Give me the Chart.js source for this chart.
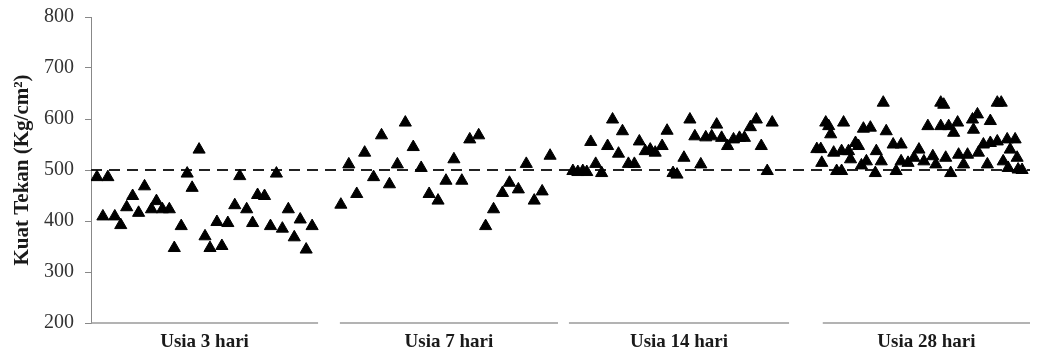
<!DOCTYPE html>
<html>
<head>
<meta charset="utf-8">
<script src="https://cdn.jsdelivr.net/npm/chart.js@4/dist/chart.umd.min.js"></script>
<style>
	html, body { margin: 0; padding: 0; background: #fff; }
	#wrap { width: 1038px; height: 354px; position: relative; }
</style>
</head>
<body>
<div id="wrap"><canvas id="kuatTekan"></canvas></div>
<script>
// kelompok umur benda uji
const groupLabels = ['Usia 3 hari', 'Usia 7 hari', 'Usia 14 hari', 'Usia 28 hari'];
// rentang garis dasar tiap kelompok (posisi sampel)
const groupRanges = [[0, 229], [251, 471], [482, 704], [738, 947]];

// kuat tekan tiap sampel (Kg/cm2), x = posisi sampel
const usia3X = [6, 12, 17, 24, 30, 36, 42, 48, 54, 61, 66, 72, 79, 84, 91, 97, 102, 109, 115, 120, 127, 132, 138, 145, 150, 157, 163, 168, 175, 181, 187, 193, 199, 205, 211, 217, 223];
const usia3Y = [486, 409, 486, 409, 392, 427, 449, 416, 468, 423, 439, 423, 423, 347, 390, 493, 465, 540, 370, 347, 398, 351, 396, 431, 488, 423, 396, 451, 449, 390, 493, 385, 423, 368, 403, 344, 390];

const usia7X = [252, 260, 268, 276, 285, 293, 301, 309, 317, 325, 333, 341, 350, 358, 366, 374, 382, 391, 398, 406, 415, 422, 431, 439, 447, 455, 463];
const usia7Y = [432, 511, 453, 534, 486, 568, 472, 511, 593, 545, 504, 453, 440, 479, 521, 479, 560, 568, 390, 423, 455, 475, 462, 512, 440, 458, 528];

const usia14X = [486, 491, 496, 500, 504, 509, 515, 521, 526, 532, 536, 542, 548, 553, 559, 564, 569, 576, 581, 587, 591, 598, 604, 609, 615, 620, 626, 631, 636, 642, 648, 654, 659, 665, 671, 676, 682, 687];
const usia14Y = [498, 496, 498, 496, 555, 512, 494, 547, 599, 532, 576, 512, 512, 556, 537, 540, 534, 547, 577, 494, 491, 524, 599, 566, 511, 564, 566, 589, 563, 547, 560, 563, 563, 584, 599, 547, 498, 593];

const usia28X = [732, 736, 737, 741, 744, 746, 749, 752, 757, 757, 759, 764, 766, 771, 774, 777, 779, 782, 786, 791, 792, 797, 799, 802, 809, 812, 817, 817, 824, 830, 835, 840, 844, 849, 852, 857, 857, 860, 862, 865, 867, 870, 874, 875, 880, 884, 889, 890, 894, 895, 900, 904, 907, 907, 914, 914, 918, 920, 924, 925, 927, 932, 934, 935, 939];
const usia28Y = [541, 541, 514, 593, 586, 570, 534, 498, 537, 498, 593, 537, 521, 553, 547, 509, 581, 517, 583, 494, 537, 517, 632, 576, 550, 498, 550, 517, 514, 524, 540, 517, 586, 527, 511, 632, 586, 628, 524, 586, 494, 573, 593, 530, 511, 530, 599, 579, 609, 534, 550, 511, 596, 553, 632, 556, 632, 517, 560, 504, 540, 560, 524, 501, 500];

// batas kuat tekan rencana
const targetStrength = 500;
const yMin = 200, yMax = 800, yStep = 100;

const serif = "'Liberation Serif', 'Times New Roman', serif";

function toPoints(xs, ys){
	return xs.map((x, i) => ({ x, y: ys[i] }));
}

const sampleSets = [[usia3X, usia3Y], [usia7X, usia7Y], [usia14X, usia14Y], [usia28X, usia28Y]];

const datasets = [];

// garis putus-putus 500
datasets.push({
	type: 'line',
	data: [{ x: groupRanges[0][0], y: targetStrength }, { x: groupRanges[3][1], y: targetStrength }],
	borderColor: '#222',
	borderWidth: 2,
	borderDash: [11, 7],
	pointRadius: 0,
	order: 2
});

// garis dasar tiap kelompok
groupRanges.forEach(r => {
	datasets.push({
		type: 'line',
		data: [{ x: r[0], y: yMin }, { x: r[1], y: yMin }],
		borderColor: '#9a9a9a',
		borderWidth: 1.5,
		pointRadius: 0,
		clip: false,
		order: 3
	});
});

sampleSets.forEach(s => {
	datasets.push({
		type: 'scatter',
		data: toPoints(s[0], s[1]),
		pointStyle: 'triangle',
		pointRadius: 7,
		pointHoverRadius: 7,
		backgroundColor: '#000',
		borderColor: '#000',
		borderWidth: 1,
		order: 1
	});
});

const groupCenters = groupRanges.map(r => (r[0] + r[1]) / 2);

new Chart(document.getElementById('kuatTekan'), {
	type: 'scatter',
	data: { datasets },
	options: {
		responsive: true,
		maintainAspectRatio: false,
		animation: false,
		events: [],
		layout: { padding: { top: 17, right: 0, bottom: 0, left: 0 } },
		plugins: { legend: { display: false }, tooltip: { enabled: false } },
		scales: {
			x: {
				type: 'linear',
				min: groupRanges[0][0],
				max: groupRanges[3][1],
				grid: { display: false, drawTicks: false },
				border: { display: false },
				afterBuildTicks: scale => { scale.ticks = groupCenters.map(v => ({ value: v })); },
				afterFit: scale => { scale.height = 31; scale.paddingLeft = 0; scale.paddingRight = 0; },
				ticks: {
					autoSkip: false,
					maxRotation: 0,
					padding: 8,
					color: '#1a1a1a',
					font: { family: serif, size: 19, weight: 'bold' },
					callback: (v, i) => groupLabels[i]
				}
			},
			y: {
				min: yMin,
				max: yMax,
				afterFit: scale => { scale.width = 91; scale.paddingTop = 0; scale.paddingBottom = 0; },
				grid: { drawOnChartArea: false, drawTicks: true, tickLength: 6, color: '#888' },
				border: { color: '#888', width: 1 },
				ticks: {
					stepSize: yStep,
					padding: 11,
					color: '#333',
					font: { family: serif, size: 20 }
				},
				title: {
					display: true,
					text: 'Kuat Tekan (Kg/cm²)',
					color: '#1a1a1a',
					padding: { top: 10, bottom: 0 },
					font: { family: serif, size: 21, weight: 'bold' }
				}
			}
		}
	}
});
</script>
</body>
</html>
